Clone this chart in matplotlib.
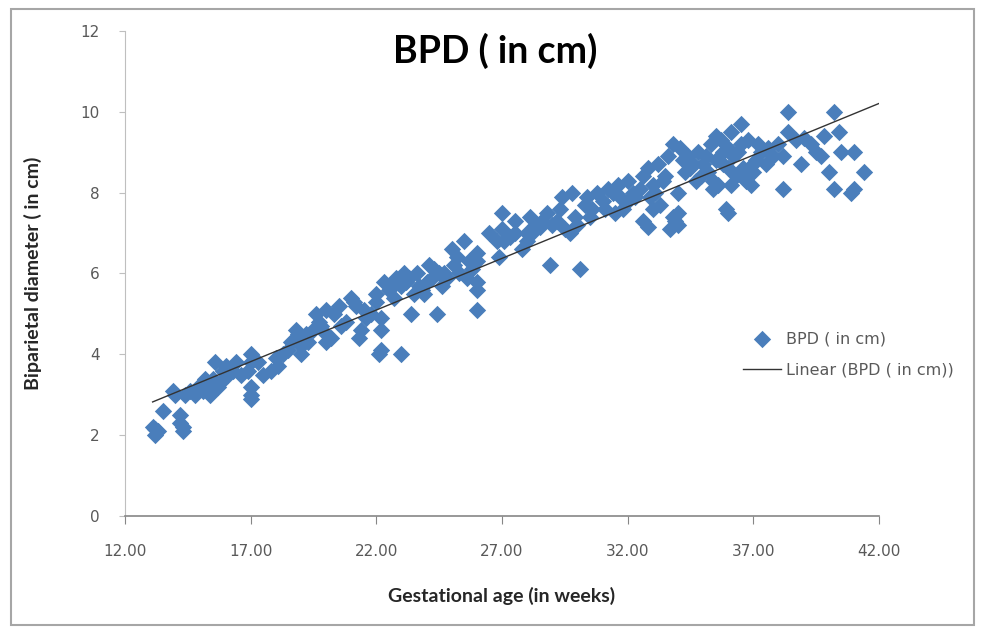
import numpy as np
import matplotlib
matplotlib.use("Agg")
import matplotlib.pyplot as plt
from matplotlib.patches import Rectangle

# gestational age (weeks) and biparietal diameter (cm)
weeks = [
    13.1, 13.2, 13.3, 13.2, 13.5, 13.9, 14.0, 14.2, 14.2, 14.3, 14.3, 14.4, 14.6, 14.8, 14.9,
    15.1, 15.3, 15.4, 15.5, 15.6, 15.7, 15.8, 16.0, 16.1, 16.3, 16.6, 16.9, 17.0, 17.0, 17.0, 17.0, 17.0,
    15.2, 15.9, 16.4, 17.3,
    17.5, 17.8, 18.0, 18.1, 18.3, 18.5, 18.8, 18.9, 19.0, 19.0, 19.3, 19.5, 19.6, 19.8, 20.0, 20.0, 20.0, 20.2, 20.3,
    18.6, 19.2, 19.7,
    20.6, 20.8, 21.0, 21.1, 21.2, 21.3, 21.4, 21.6, 21.8, 22.0, 22.0, 22.1, 22.2, 22.2, 22.2, 22.3, 22.5, 22.7, 22.8,
    23.0, 23.0, 23.1, 23.2, 20.5, 21.5, 22.6,
    23.4, 23.5, 23.6, 23.8, 23.9, 24.0, 24.1, 24.2, 24.4, 24.5, 24.6, 24.8, 25.0, 25.1, 25.3, 25.5, 25.6, 25.8,
    26.0, 26.0, 26.0, 26.0, 26.0, 23.3, 23.7, 24.3, 24.7, 25.2, 25.7,
    26.5, 26.8, 26.9, 27.0, 27.0, 27.1, 27.3, 27.5, 27.8, 28.0, 28.0, 28.1, 28.3, 28.5, 28.6, 28.9, 29.0, 29.2,
    29.4, 29.5, 29.7, 29.8, 30.0, 27.5, 28.2, 28.8, 29.3, 29.9,
    30.1, 30.3, 30.5, 30.6, 30.8, 31.0, 31.2, 31.4, 31.5, 31.6, 31.8, 32.0, 32.0,
    30.4, 31.1, 31.7, 32.2,
    32.3, 32.5, 32.6, 32.6, 32.8, 32.8, 32.9, 33.0, 33.0, 33.2, 33.3, 33.5, 33.6, 33.7, 33.8, 33.9, 34.0, 34.0,
    34.2, 34.3, 33.1, 33.4, 34.1, 34.4, 34.0, 33.8,
    34.5, 34.6, 34.8, 34.9, 35.0, 35.1, 35.3, 35.4, 35.4, 35.5, 35.6, 35.7, 35.8, 35.9, 36.0, 36.0, 36.0, 36.1,
    36.2, 36.3, 36.5, 36.5, 34.7, 35.2, 35.5, 35.8, 36.1, 36.4,
    36.7, 36.9, 36.9, 37.1, 37.3, 37.6, 37.8, 38.0, 38.2, 38.2, 38.4, 38.4, 38.7, 38.9, 39.0, 39.3, 39.5, 39.7,
    39.8, 40.0, 40.2, 40.2, 40.4, 40.5, 40.9, 41.0, 41.0, 41.4, 36.6, 36.8, 37.0, 37.2, 37.5,
]
bpd = [
    2.2, 2.0, 2.1, 2.15, 2.6, 3.1, 3.0, 2.5, 2.3, 2.1, 2.2, 3.0, 3.1, 3.0, 3.2,
    3.1, 3.3, 3.0, 3.4, 3.8, 3.2, 3.3, 3.7, 3.5, 3.6, 3.5, 3.6, 4.0, 3.8, 3.2, 3.0, 2.9,
    3.4, 3.6, 3.8, 3.8,
    3.5, 3.6, 3.9, 3.7, 4.0, 4.1, 4.6, 4.5, 4.0, 4.2, 4.3, 4.6, 5.0, 4.7, 4.3, 4.5, 5.1, 4.4, 5.0,
    4.3, 4.5, 4.8,
    4.7, 4.8, 5.4, 5.3, 5.2, 4.4, 4.6, 4.9, 5.0, 5.5, 5.3, 4.0, 4.1, 4.6, 4.9, 5.8, 5.6, 5.4, 5.9,
    4.0, 5.7, 6.0, 5.8, 5.2, 5.1, 5.7,
    5.0, 5.5, 6.0, 5.6, 5.5, 5.8, 6.2, 5.9, 5.0, 6.0, 5.7, 5.9, 6.6, 6.2, 6.0, 6.8, 5.9, 6.1,
    5.1, 5.6, 5.8, 6.3, 6.5, 5.9, 5.7, 6.1, 6.0, 6.4, 6.3,
    7.0, 6.8, 6.4, 7.1, 7.5, 6.8, 6.9, 7.0, 6.6, 6.8, 7.0, 7.4, 7.2, 7.15, 7.3, 6.2, 7.2, 7.3,
    7.9, 7.1, 7.0, 8.0, 7.2, 7.3, 7.0, 7.5, 7.6, 7.4,
    6.1, 7.7, 7.4, 7.6, 8.0, 7.8, 8.1, 8.0, 7.5, 8.2, 7.6, 7.8, 8.3,
    7.9, 7.6, 7.9, 8.0,
    7.9, 8.1, 7.3, 8.4, 8.6, 7.15, 7.9, 7.6, 8.2, 8.7, 7.7, 8.4, 8.9, 7.1, 9.2, 7.3, 7.5, 8.0,
    8.8, 8.5, 8.0, 8.3, 9.1, 8.9, 7.2, 7.4,
    8.6, 8.7, 9.0, 8.4, 8.7, 8.9, 9.2, 8.3, 8.1, 8.8, 8.2, 9.3, 9.0, 7.6, 7.5, 8.6, 9.1, 9.5,
    8.9, 8.4, 9.7, 9.2, 8.3, 8.5, 9.4, 8.7, 8.2, 9.0,
    8.3, 8.65, 8.2, 8.8, 9.0, 9.1, 8.9, 9.2, 8.1, 8.9, 10.0, 9.5, 9.3, 8.7, 9.35, 9.2, 9.0, 8.9,
    9.4, 8.5, 8.1, 10.0, 9.5, 9.0, 8.0, 9.0, 8.1, 8.5, 8.6, 9.3, 8.5, 9.2, 8.7,
]

x_ticks = [12, 17, 22, 27, 32, 37, 42]
y_ticks = [0, 2, 4, 6, 8, 10, 12]

blue = "#4a7ebb"
text_grey = "#595959"

fig = plt.figure(figsize=(9.81, 6.32), dpi=100)
fig.patches.append(Rectangle((0.011, 0.011), 0.982, 0.975, transform=fig.transFigure,
                             fill=False, edgecolor="#a6a6a6", linewidth=1.5))
ax = fig.add_axes([0.1274, 0.1835, 0.7686, 0.7675])

ax.scatter(weeks, bpd, marker="D", s=78, color=blue, linewidths=0, label="BPD ( in cm)", zorder=2)

# linear trend line
slope, intercept = np.polyfit(weeks, bpd, 1)
tx = np.array([min(weeks), x_ticks[-1]])
ax.plot(tx, slope * tx + intercept, color="#333333", linewidth=1.0,
        label="Linear (BPD ( in cm))", zorder=3)

ax.set_xlim(x_ticks[0], x_ticks[-1])
ax.set_ylim(y_ticks[0], y_ticks[-1])
ax.set_xticks(x_ticks)
ax.set_xticklabels([f"{t:.2f}" for t in x_ticks])
ax.set_yticks(y_ticks)
ax.set_yticklabels([str(t) for t in y_ticks])

for side in ["top", "right"]:
    ax.spines[side].set_visible(False)
ax.spines["left"].set_color("#bfbfbf")
ax.spines["bottom"].set_color("#868686")
ax.spines["bottom"].set_linewidth(1.2)
ax.tick_params(axis="x", direction="out", length=6, color="#868686", labelsize=11,
               labelcolor=text_grey, pad=14)
ax.tick_params(axis="y", direction="out", length=4, color="#bfbfbf", labelsize=11,
               labelcolor=text_grey, pad=14)

fig.text(0.505, 0.919, "BPD ( in cm)", ha="center", va="center", fontsize=27,
         fontweight="bold", family="Lato", color="#000000")
ax.set_xlabel("Gestational age (in weeks)", fontsize=14, fontweight="bold",
              family="Lato", color="#262626", labelpad=20)
ax.set_ylabel("Biparietal diameter ( in cm)", fontsize=14, fontweight="bold",
              family="Lato", color="#262626", labelpad=28)

ax.legend(loc="upper left", bbox_to_anchor=(0.80, 0.41), frameon=False, fontsize=11.5,
          labelcolor=text_grey, handlelength=2.4, handletextpad=0.3, labelspacing=1.0)

fig.savefig("out.png", dpi=100)
